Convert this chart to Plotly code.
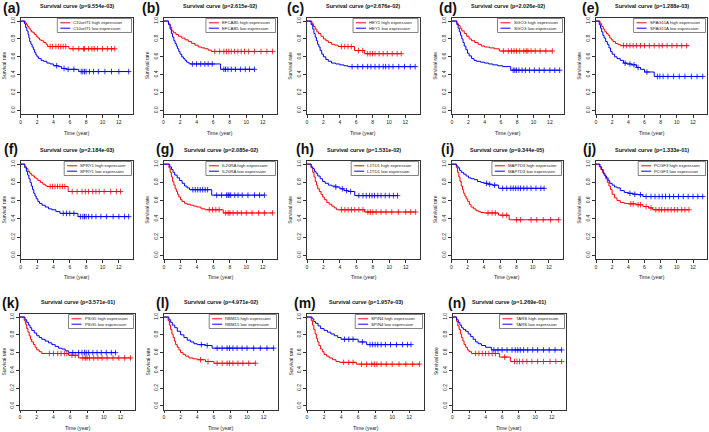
import plotly.graph_objects as go

# ---------------- data ----------------
letters = ["(a)", "(b)", "(c)", "(d)", "(e)", "(f)", "(g)", "(h)", "(i)", "(j)", "(k)", "(l)", "(m)", "(n)"]
genes = ["C10orf71", "EFCAB5", "HEY1", "SGCG", "SPAG11A", "SPRY1", "IL20RA", "L1TD1", "MAP7D3", "PCGF3",
         "PSG5", "RBM15", "SPIN4", "TARS"]
pvalues = ["9.554e-03", "2.615e-02", "2.676e-02", "2.026e-02", "1.288e-03", "2.184e-03", "2.085e-02",
           "1.531e-02", "9.344e-05", "1.333e-01", "3.571e-01", "4.971e-02", "1.957e-03", "1.269e-01"]
x_ticks = [0, 2, 4, 6, 8, 10, 12]
y_ticks = [0.0, 0.2, 0.4, 0.6, 0.8, 1.0]

# (a)
a_high_t = [0, 0.55, 0.7, 0.85, 1.0, 1.15, 1.3, 1.5, 1.7, 1.9, 2.1, 2.3, 2.5, 2.8, 3.1, 3.3, 5.9, 11.5]
a_high_s = [1.0, 0.98, 0.96, 0.94, 0.92, 0.90, 0.88, 0.87, 0.85, 0.83, 0.81, 0.79, 0.78, 0.76, 0.74, 0.715, 0.69, 0.69]
a_high_c = [3.6, 3.9, 4.3, 4.6, 4.9, 5.2, 5.5, 6.4, 7.1, 7.7, 7.8, 8.3, 8.7, 9.0, 9.4, 10.0, 10.6, 11.1, 11.5]
a_low_t = [0, 0.45, 0.6, 0.75, 0.9, 1.0, 1.1, 1.25, 1.4, 1.55, 1.7, 1.85, 2.0, 2.2, 2.5, 2.8, 3.2, 3.6, 4.0, 4.6, 5.0, 5.6, 7.1, 13.2]
a_low_s = [1.0, 0.97, 0.93, 0.89, 0.85, 0.81, 0.77, 0.74, 0.71, 0.68, 0.65, 0.62, 0.60, 0.58, 0.56, 0.55, 0.53, 0.52, 0.50, 0.49, 0.47, 0.46, 0.435, 0.435]
a_low_c = [4.4, 5.3, 5.8, 6.5, 7.4, 7.6, 7.8, 8.0, 8.4, 8.9, 9.5, 10.3, 11.1, 12.0, 13.2]
# (b)
b_high_t = [0, 0.6, 0.8, 1.0, 1.2, 1.5, 1.8, 2.2, 2.6, 3.0, 3.4, 3.8, 4.2, 4.6, 5.0, 5.4, 5.8, 13.2]
b_high_s = [1.0, 0.97, 0.93, 0.89, 0.87, 0.85, 0.83, 0.81, 0.79, 0.77, 0.75, 0.73, 0.71, 0.70, 0.69, 0.675, 0.66, 0.66]
b_high_c = [6.2, 6.8, 7.3, 7.6, 7.9, 8.2, 8.6, 9.0, 9.4, 9.8, 10.3, 11.0, 11.8, 12.5, 13.2]
b_low_t = [0, 0.6, 0.8, 0.95, 1.1, 1.25, 1.4, 1.55, 1.7, 1.85, 2.0, 2.2, 2.4, 2.6, 2.8, 3.0, 3.2, 6.9, 11.0]
b_low_s = [1.0, 0.96, 0.91, 0.86, 0.82, 0.78, 0.75, 0.72, 0.69, 0.66, 0.63, 0.60, 0.58, 0.56, 0.54, 0.53, 0.52, 0.46, 0.46]
b_low_c = [3.5, 4.0, 4.5, 5.0, 5.4, 5.9, 7.3, 7.5, 7.8, 8.2, 8.7, 9.3, 9.9, 10.4, 11.0]
# (c)
c_high_t = [0, 0.6, 0.8, 1.0, 1.2, 1.4, 1.7, 2.0, 2.3, 2.6, 3.0, 3.4, 3.8, 5.8, 7.0, 11.5]
c_high_s = [1.0, 0.97, 0.94, 0.91, 0.88, 0.86, 0.83, 0.80, 0.78, 0.76, 0.74, 0.73, 0.715, 0.67, 0.635, 0.635]
c_high_c = [4.2, 4.6, 5.0, 5.4, 6.3, 6.8, 7.4, 7.7, 8.0, 8.3, 8.8, 9.3, 9.8, 10.4, 11.0, 11.5]
c_low_t = [0, 0.5, 0.7, 0.85, 1.0, 1.15, 1.3, 1.45, 1.6, 1.8, 2.0, 2.3, 2.6, 3.0, 3.5, 4.0, 4.5, 5.0, 13.2]
c_low_s = [1.0, 0.96, 0.91, 0.86, 0.82, 0.78, 0.74, 0.71, 0.67, 0.63, 0.60, 0.57, 0.55, 0.53, 0.52, 0.51, 0.50, 0.49, 0.49]
c_low_c = [5.5, 6.2, 6.8, 7.4, 7.8, 8.3, 8.8, 9.3, 9.6, 10.0, 10.5, 11.2, 11.9, 12.6, 13.2]
# (d)
d_high_t = [0, 0.6, 0.8, 1.0, 1.2, 1.5, 1.8, 2.1, 2.4, 2.8, 3.2, 3.6, 4.0, 4.6, 5.2, 5.8, 12.3]
d_high_s = [1.0, 0.97, 0.95, 0.92, 0.89, 0.86, 0.83, 0.80, 0.78, 0.76, 0.74, 0.72, 0.71, 0.70, 0.69, 0.665, 0.665]
d_high_c = [6.3, 6.9, 7.3, 7.6, 7.9, 8.3, 8.8, 9.1, 9.3, 9.7, 10.2, 10.8, 11.5, 12.3]
d_low_t = [0, 0.6, 0.75, 0.9, 1.05, 1.2, 1.35, 1.5, 1.7, 1.9, 2.1, 2.4, 2.7, 3.0, 3.5, 4.0, 4.5, 5.0, 5.6, 6.2, 7.2, 13.2]
d_low_s = [1.0, 0.96, 0.92, 0.88, 0.84, 0.80, 0.76, 0.72, 0.68, 0.64, 0.61, 0.58, 0.56, 0.55, 0.54, 0.53, 0.52, 0.51, 0.50, 0.49, 0.45, 0.45]
d_low_c = [7.5, 7.7, 7.9, 8.2, 8.6, 9.0, 9.5, 10.1, 10.7, 11.3, 12.0, 12.6, 13.2]
# (e)
e_high_t = [0, 0.5, 0.7, 0.9, 1.1, 1.3, 1.5, 1.7, 1.9, 2.1, 2.4, 2.7, 3.0, 11.5]
e_high_s = [1.0, 0.97, 0.94, 0.91, 0.88, 0.86, 0.84, 0.81, 0.79, 0.77, 0.75, 0.74, 0.725, 0.725]
e_high_c = [3.4, 3.8, 4.2, 4.6, 5.0, 5.5, 6.0, 6.6, 7.2, 7.8, 8.2, 8.8, 9.4, 10.0, 10.6, 11.2]
e_low_t = [0, 0.4, 0.55, 0.7, 0.85, 1.0, 1.2, 1.4, 1.6, 1.8, 2.0, 2.3, 2.6, 3.0, 3.4, 3.8, 4.4, 5.0, 5.5, 6.0, 7.2, 13.2]
e_low_s = [1.0, 0.96, 0.92, 0.88, 0.84, 0.81, 0.77, 0.74, 0.70, 0.66, 0.63, 0.60, 0.58, 0.56, 0.53, 0.52, 0.51, 0.48, 0.46, 0.43, 0.38, 0.38]
e_low_c = [3.6, 4.2, 4.7, 5.2, 6.3, 7.6, 7.9, 8.3, 8.9, 9.6, 10.3, 11.0, 11.8, 12.5, 13.2]
# (f)
f_high_t = [0, 0.5, 0.7, 0.9, 1.1, 1.3, 1.5, 1.7, 1.9, 2.1, 2.4, 2.7, 3.0, 3.2, 5.8, 12.2]
f_high_s = [1.0, 0.97, 0.95, 0.92, 0.90, 0.88, 0.87, 0.85, 0.84, 0.82, 0.80, 0.78, 0.765, 0.755, 0.70, 0.70]
f_high_c = [3.6, 3.9, 4.2, 4.5, 4.8, 5.1, 5.4, 6.3, 6.9, 7.5, 7.9, 8.3, 8.8, 9.2, 9.6, 10.2, 11.0, 11.7, 12.2]
f_low_t = [0, 0.5, 0.7, 0.85, 1.0, 1.15, 1.3, 1.45, 1.6, 1.75, 1.9, 2.1, 2.3, 2.6, 3.0, 3.4, 3.8, 4.3, 4.8, 7.0, 13.2]
f_low_s = [1.0, 0.96, 0.92, 0.88, 0.84, 0.80, 0.76, 0.72, 0.68, 0.65, 0.62, 0.59, 0.57, 0.55, 0.53, 0.51, 0.50, 0.48, 0.46, 0.425, 0.425]
f_low_c = [5.2, 5.6, 6.0, 6.5, 7.3, 7.6, 7.8, 8.0, 8.3, 8.7, 9.2, 9.8, 10.5, 11.3, 12.0, 12.7, 13.2]
# (g)
g_high_t = [0, 0.6, 0.75, 0.9, 1.05, 1.2, 1.35, 1.5, 1.65, 1.8, 2.0, 2.2, 2.5, 2.8, 3.2, 3.6, 4.0, 4.5, 5.0, 7.2, 13.2]
g_high_s = [1.0, 0.96, 0.91, 0.86, 0.81, 0.77, 0.73, 0.70, 0.67, 0.64, 0.61, 0.59, 0.57, 0.56, 0.55, 0.54, 0.53, 0.51, 0.50, 0.465, 0.465]
g_high_c = [5.5, 5.9, 6.3, 6.7, 7.5, 7.8, 8.0, 8.4, 8.9, 9.4, 10.0, 10.7, 11.5, 12.2, 13.2]
g_low_t = [0, 0.7, 0.9, 1.1, 1.3, 1.6, 1.9, 2.2, 2.5, 2.8, 3.1, 5.8, 12.2]
g_low_s = [1.0, 0.97, 0.94, 0.91, 0.88, 0.85, 0.82, 0.79, 0.76, 0.74, 0.72, 0.66, 0.66]
g_low_c = [3.5, 3.8, 4.1, 4.4, 4.7, 5.0, 5.3, 6.4, 7.0, 7.6, 7.8, 7.9, 8.1, 8.6, 9.0, 9.5, 10.2, 11.0, 11.6, 12.2]
# (h)
h_high_t = [0, 0.5, 0.7, 0.85, 1.0, 1.15, 1.3, 1.5, 1.7, 1.9, 2.1, 2.4, 2.7, 3.0, 3.3, 3.6, 7.0, 13.2]
h_high_s = [1.0, 0.96, 0.91, 0.86, 0.81, 0.77, 0.73, 0.70, 0.67, 0.64, 0.61, 0.58, 0.56, 0.54, 0.52, 0.50, 0.475, 0.475]
h_high_c = [4.2, 4.6, 5.0, 5.4, 5.8, 6.3, 6.8, 7.4, 7.7, 8.0, 8.4, 9.0, 9.6, 10.3, 11.1, 12.0, 12.6, 13.2]
h_low_t = [0, 0.5, 0.7, 0.9, 1.1, 1.3, 1.6, 1.9, 2.2, 2.6, 3.0, 3.5, 4.0, 4.5, 5.0, 5.8, 11.0]
h_low_s = [1.0, 0.97, 0.95, 0.92, 0.90, 0.87, 0.84, 0.81, 0.79, 0.77, 0.76, 0.75, 0.73, 0.71, 0.70, 0.655, 0.655]
h_low_c = [3.5, 4.3, 4.8, 5.3, 6.3, 6.8, 7.2, 7.6, 7.9, 8.2, 8.6, 9.0, 9.5, 10.0, 10.5, 11.0]
# (i)
i_high_t = [0, 0.6, 0.75, 0.9, 1.05, 1.2, 1.35, 1.5, 1.65, 1.8, 2.0, 2.2, 2.4, 2.7, 3.0, 3.3, 3.6, 4.0, 5.8, 7.1, 13.2]
i_high_s = [1.0, 0.96, 0.91, 0.86, 0.81, 0.76, 0.72, 0.68, 0.65, 0.62, 0.59, 0.56, 0.53, 0.51, 0.49, 0.48, 0.47, 0.465, 0.44, 0.39, 0.39]
i_high_c = [4.5, 5.0, 5.4, 6.3, 6.8, 8.0, 8.5, 9.8, 10.5, 11.3, 12.2, 13.2]
i_low_t = [0, 0.6, 0.8, 1.0, 1.2, 1.5, 1.8, 2.1, 2.4, 2.8, 3.2, 3.6, 4.0, 4.5, 5.0, 5.8, 11.4]
i_low_s = [1.0, 0.98, 0.96, 0.93, 0.91, 0.89, 0.87, 0.85, 0.84, 0.83, 0.81, 0.80, 0.79, 0.78, 0.77, 0.735, 0.735]
i_low_c = [4.3, 4.7, 5.3, 6.3, 6.8, 7.3, 7.6, 7.9, 8.2, 8.5, 8.9, 9.3, 9.8, 10.4, 11.0, 11.4]
# (j)
j_high_t = [0, 0.4, 0.6, 0.8, 1.0, 1.2, 1.4, 1.6, 1.8, 2.0, 2.3, 2.6, 3.0, 3.5, 4.0, 5.0, 5.8, 6.5, 7.0, 11.5]
j_high_s = [1.0, 0.97, 0.94, 0.91, 0.88, 0.84, 0.80, 0.76, 0.72, 0.67, 0.63, 0.60, 0.58, 0.57, 0.565, 0.555, 0.535, 0.52, 0.50, 0.50]
j_high_c = [4.3, 4.6, 5.2, 5.5, 6.2, 6.8, 7.4, 7.8, 8.1, 8.5, 8.9, 9.3, 9.7, 10.1, 10.6, 11.0, 11.5]
j_low_t = [0, 0.5, 0.7, 0.9, 1.1, 1.3, 1.5, 1.7, 2.0, 2.3, 2.6, 3.0, 3.5, 4.0, 4.6, 5.2, 5.8, 13.2]
j_low_s = [1.0, 0.97, 0.94, 0.90, 0.87, 0.85, 0.82, 0.79, 0.77, 0.75, 0.74, 0.71, 0.69, 0.68, 0.67, 0.665, 0.645, 0.645]
j_low_c = [4.2, 4.8, 5.5, 6.2, 6.8, 7.3, 7.8, 8.2, 8.6, 9.1, 9.6, 10.2, 10.8, 11.4, 12.0, 12.6, 13.2]
# (k)
k_high_t = [0, 0.5, 0.65, 0.8, 0.95, 1.1, 1.25, 1.4, 1.6, 1.8, 2.0, 2.3, 2.6, 5.8, 7.0, 13.2]
k_high_s = [1.0, 0.96, 0.92, 0.87, 0.83, 0.79, 0.75, 0.72, 0.69, 0.66, 0.63, 0.61, 0.59, 0.57, 0.54, 0.54]
k_high_c = [3.5, 4.0, 4.5, 4.9, 5.3, 5.6, 6.2, 6.6, 7.5, 7.8, 8.0, 8.3, 8.8, 9.3, 9.8, 10.4, 11.1, 11.8, 12.5, 13.2]
k_low_t = [0, 0.6, 0.8, 1.0, 1.2, 1.4, 1.7, 2.0, 2.3, 2.6, 3.0, 3.4, 3.8, 4.2, 4.6, 5.0, 5.4, 5.8, 11.4]
k_low_s = [1.0, 0.97, 0.94, 0.91, 0.88, 0.85, 0.82, 0.79, 0.77, 0.75, 0.73, 0.71, 0.69, 0.67, 0.65, 0.64, 0.62, 0.60, 0.60]
k_low_c = [6.3, 7.0, 7.4, 7.7, 7.9, 8.2, 8.7, 9.2, 9.7, 10.3, 10.9, 11.4]
# (l)
l_high_t = [0, 0.5, 0.65, 0.8, 0.95, 1.1, 1.25, 1.4, 1.6, 1.8, 2.0, 2.3, 2.6, 3.0, 3.5, 4.0, 5.0, 6.0, 11.0]
l_high_s = [1.0, 0.96, 0.91, 0.86, 0.81, 0.77, 0.73, 0.69, 0.66, 0.63, 0.60, 0.58, 0.56, 0.54, 0.53, 0.52, 0.50, 0.48, 0.48]
l_high_c = [4.4, 5.3, 6.4, 7.0, 7.6, 7.9, 8.3, 8.9, 9.5, 10.2, 11.0]
l_low_t = [0, 0.6, 0.8, 1.0, 1.3, 1.6, 2.0, 2.4, 2.8, 3.2, 3.6, 4.0, 5.0, 5.8, 13.2]
l_low_s = [1.0, 0.97, 0.94, 0.91, 0.88, 0.84, 0.80, 0.77, 0.74, 0.72, 0.70, 0.69, 0.68, 0.65, 0.65]
l_low_c = [4.5, 5.2, 6.4, 7.0, 7.6, 7.9, 8.3, 8.8, 9.4, 10.0, 10.8, 11.6, 12.4, 13.2]
# (m)
m_high_t = [0, 0.5, 0.65, 0.8, 0.95, 1.1, 1.25, 1.4, 1.6, 1.8, 2.0, 2.3, 2.6, 3.0, 3.4, 3.8, 5.8, 13.2]
m_high_s = [1.0, 0.96, 0.91, 0.86, 0.81, 0.76, 0.72, 0.68, 0.64, 0.61, 0.58, 0.56, 0.54, 0.52, 0.50, 0.49, 0.47, 0.47]
m_high_c = [4.3, 4.9, 5.4, 6.4, 7.0, 7.6, 7.9, 8.2, 8.7, 9.3, 10.0, 10.8, 11.6, 12.4, 13.2]
m_low_t = [0, 0.6, 0.8, 1.0, 1.3, 1.6, 2.0, 2.4, 2.8, 3.2, 3.6, 4.0, 6.0, 7.0, 12.2]
m_low_s = [1.0, 0.98, 0.95, 0.93, 0.90, 0.87, 0.85, 0.83, 0.81, 0.79, 0.77, 0.75, 0.72, 0.69, 0.69]
m_low_c = [4.4, 4.9, 5.4, 6.5, 7.4, 7.7, 8.0, 8.3, 8.7, 9.2, 9.8, 10.5, 11.2, 11.8, 12.2]
# (n)
n_high_t = [0, 0.5, 0.65, 0.8, 0.95, 1.1, 1.25, 1.4, 1.6, 1.8, 2.0, 2.3, 5.7, 7.0, 13.2]
n_high_s = [1.0, 0.95, 0.90, 0.86, 0.81, 0.77, 0.73, 0.69, 0.66, 0.63, 0.61, 0.59, 0.55, 0.50, 0.50]
n_high_c = [2.8, 3.2, 3.6, 4.0, 4.4, 4.8, 5.2, 6.3, 7.5, 7.8, 8.1, 8.5, 9.0, 9.6, 10.3, 11.0, 11.8, 12.5, 13.2]
n_low_t = [0, 0.5, 0.7, 0.9, 1.1, 1.3, 1.6, 1.9, 2.2, 2.5, 2.8, 3.1, 3.5, 4.0, 4.7, 13.2]
n_low_s = [1.0, 0.97, 0.94, 0.91, 0.88, 0.86, 0.84, 0.81, 0.78, 0.75, 0.72, 0.70, 0.68, 0.66, 0.63, 0.63]
n_low_c = [5.0, 5.5, 6.0, 6.6, 7.2, 7.6, 7.9, 8.2, 8.6, 9.1, 9.7, 10.3, 11.0, 11.7, 12.4, 13.2]

high_series = [
    (a_high_t, a_high_s, a_high_c), (b_high_t, b_high_s, b_high_c), (c_high_t, c_high_s, c_high_c),
    (d_high_t, d_high_s, d_high_c), (e_high_t, e_high_s, e_high_c), (f_high_t, f_high_s, f_high_c),
    (g_high_t, g_high_s, g_high_c), (h_high_t, h_high_s, h_high_c), (i_high_t, i_high_s, i_high_c),
    (j_high_t, j_high_s, j_high_c), (k_high_t, k_high_s, k_high_c), (l_high_t, l_high_s, l_high_c),
    (m_high_t, m_high_s, m_high_c), (n_high_t, n_high_s, n_high_c)]
low_series = [
    (a_low_t, a_low_s, a_low_c), (b_low_t, b_low_s, b_low_c), (c_low_t, c_low_s, c_low_c),
    (d_low_t, d_low_s, d_low_c), (e_low_t, e_low_s, e_low_c), (f_low_t, f_low_s, f_low_c),
    (g_low_t, g_low_s, g_low_c), (h_low_t, h_low_s, h_low_c), (i_low_t, i_low_s, i_low_c),
    (j_low_t, j_low_s, j_low_c), (k_low_t, k_low_s, k_low_c), (l_low_t, l_low_s, l_low_c),
    (m_low_t, m_low_s, m_low_c), (n_low_t, n_low_s, n_low_c)]

# ---------------- layout geometry (pixels) ----------------
W, H = 709, 432
RED, BLUE = "#FF0000", "#0000FF"
FONT = "Liberation Sans"
col_left = [[20.7, 163.5, 307, 452, 596], [20.7, 164, 307, 451.5, 596], [20, 164, 307, 452.5]]
col_right = [[133, 277, 419.5, 564, 707], [133, 277, 420, 563, 707], [135, 278, 424, 566]]
row_box = [(17.5, 114), (160.5, 259), (313.5, 409.5)]
row_title_y = [6, 150, 302]
row_xlab_y = [133, 277, 427.5]
letter_x = [[11, 151, 295, 448, 590], [11, 165, 305, 447, 589], [10, 162, 305, 457]]
row_letter_y = [7.5, 149, 303]


def surv_at(ts, ss, x):
    v = ss[0]
    for t, s in zip(ts, ss):
        if t <= x:
            v = s
    return v


def px(x):
    return x / W


def py(y):
    return 1 - y / H


fig = go.Figure()
annotations = []
shapes = []
layout_axes = {}

panel_pos = [(0, c) for c in range(5)] + [(1, c) for c in range(5)] + [(2, c) for c in range(4)]

for idx, (row, col) in enumerate(panel_pos):
    n = idx + 1
    xa = "x" if n == 1 else f"x{n}"
    ya = "y" if n == 1 else f"y{n}"
    L, R = col_left[row][col], col_right[row][col]
    T, B = row_box[row]
    axis_common = dict(showline=True, mirror=True, linecolor="#333", linewidth=0.8,
                       ticks="outside", ticklen=3, tickwidth=0.7, tickcolor="#333",
                       showgrid=False, zeroline=False,
                       tickfont=dict(family=FONT, size=5, color="#222"))
    layout_axes["xaxis" if n == 1 else f"xaxis{n}"] = dict(
        axis_common, domain=[px(L), px(R)], range=[0, 13.73], anchor=ya,
        tickvals=x_ticks, ticktext=[str(v) for v in x_ticks])
    layout_axes["yaxis" if n == 1 else f"yaxis{n}"] = dict(
        axis_common, domain=[py(B), py(T)], range=[-0.04, 1.04], anchor=xa,
        tickvals=y_ticks, ticktext=[f"{v:.1f}" for v in y_ticks], tickangle=-90)

    for (ts, ss, cs), color in ((high_series[idx], RED), (low_series[idx], BLUE)):
        fig.add_trace(go.Scatter(x=ts, y=ss, mode="lines", xaxis=xa, yaxis=ya,
                                 line=dict(color=color, width=1, shape="hv"),
                                 showlegend=False, hoverinfo="skip"))
        fig.add_trace(go.Scatter(x=cs, y=[surv_at(ts, ss, c) for c in cs], mode="markers",
                                 xaxis=xa, yaxis=ya,
                                 marker=dict(symbol="cross-thin", size=4, color=color,
                                             line=dict(color=color, width=0.8)),
                                 showlegend=False, hoverinfo="skip"))

    cx = (L + R) / 2
    annotations.append(dict(text=f"<b>Survival curve (p={pvalues[idx]})</b>", x=px(cx), y=py(row_title_y[row]),
                            xref="paper", yref="paper", showarrow=False, xanchor="center", yanchor="middle",
                            borderpad=0, font=dict(family=FONT, size=5.5, color="#111")))
    annotations.append(dict(text=f"<b>{letters[idx]}</b>", x=px(letter_x[row][col]), y=py(row_letter_y[row]),
                            xref="paper", yref="paper", showarrow=False, xanchor="center", yanchor="middle",
                            borderpad=0, font=dict(family=FONT, size=14, color="#111")))
    annotations.append(dict(text="Time (year)", x=px(cx), y=py(row_xlab_y[row]), xref="paper", yref="paper",
                            showarrow=False, xanchor="center", yanchor="middle", borderpad=0,
                            font=dict(family=FONT, size=5, color="#222")))
    annotations.append(dict(text="Survival rate", x=px(L - 17), y=py((T + B) / 2), xref="paper", yref="paper",
                            showarrow=False, xanchor="center", yanchor="middle", textangle=-90, borderpad=0,
                            font=dict(family=FONT, size=5, color="#222")))

    # legend box (top-right inside)
    labels = [f"{genes[idx]} high expression", f"{genes[idx]} low expression"]
    text_w = max(len(s) for s in labels) * 2.3
    lw = 15 + text_w + 4
    lr = R - 1.5
    ll = lr - lw
    lt = T + 1
    lb = lt + 14
    shapes.append(dict(type="rect", xref="paper", yref="paper", x0=px(ll), x1=px(lr), y0=py(lb), y1=py(lt),
                       line=dict(color="#333", width=0.6), fillcolor="white", layer="above"))
    for k, (lab, color) in enumerate(zip(labels, (RED, BLUE))):
        yy = lt + 4.3 + k * 5.4
        shapes.append(dict(type="line", xref="paper", yref="paper", x0=px(ll + 3), x1=px(ll + 13),
                           y0=py(yy), y1=py(yy), line=dict(color=color, width=1), layer="above"))
        annotations.append(dict(text=lab, x=px(ll + 15), y=py(yy), xref="paper", yref="paper",
                                showarrow=False, xanchor="left", yanchor="middle", borderpad=0,
                                font=dict(family=FONT, size=4.3, color="#222")))

fig.update_layout(width=W, height=H, margin=dict(l=0, r=0, t=0, b=0),
                  paper_bgcolor="white", plot_bgcolor="white",
                  annotations=annotations, shapes=shapes, showlegend=False, **layout_axes)
fig.write_html("out.html", config={"displayModeBar": False},
               post_script="document.body.style.margin='0px';document.body.style.padding='0px';"
                           "document.body.style.overflow='hidden';")
